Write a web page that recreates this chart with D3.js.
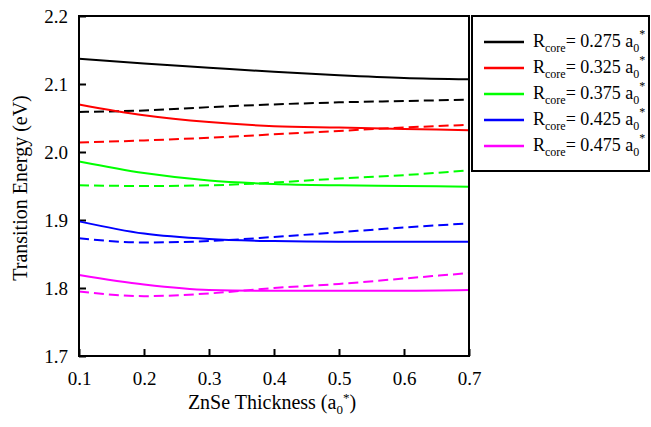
<!DOCTYPE html>
<html>
<head>
<meta charset="utf-8">
<script src="https://cdn.jsdelivr.net/npm/d3@7"></script>
<style>
  body { margin: 0; background: #fff; }
  text { font-family: "Liberation Serif", "Times New Roman", serif; }
</style>
</head>
<body>
<div id="canvas"></div>
<script>
// thickness values (a0*)
let thickness = [0.1, 0.2, 0.3, 0.4, 0.5, 0.6, 0.7]

let coreRadii = ["0.275", "0.325", "0.375", "0.425", "0.475"]
let colours = ["#000000", "#ff0000", "#00ff00", "#0000ff", "#ff00ff"]

// solid curves
let solid0275 = [2.137, 2.130, 2.124, 2.118, 2.113, 2.109, 2.107]
let solid0325 = [2.070, 2.054, 2.044, 2.038, 2.036, 2.034, 2.032]
let solid0375 = [1.986, 1.969, 1.958, 1.953, 1.951, 1.950, 1.949]
let solid0425 = [1.898, 1.880, 1.872, 1.869, 1.868, 1.868, 1.868]
let solid0475 = [1.819, 1.805, 1.797, 1.796, 1.796, 1.796, 1.797]

// dashed curves
let dashed0275 = [2.059, 2.061, 2.066, 2.070, 2.073, 2.075, 2.077]
let dashed0325 = [2.014, 2.017, 2.021, 2.026, 2.031, 2.036, 2.040]
let dashed0375 = [1.951, 1.950, 1.951, 1.955, 1.961, 1.966, 1.973]
let dashed0425 = [1.873, 1.867, 1.869, 1.875, 1.882, 1.889, 1.895]
let dashed0475 = [1.795, 1.788, 1.792, 1.800, 1.806, 1.814, 1.822]

let xTicks = [0.1, 0.2, 0.3, 0.4, 0.5, 0.6, 0.7]
let yTicks = [1.7, 1.8, 1.9, 2.0, 2.1, 2.2]

window.onload = function (){ setup() }

function setup(){

  let solids = [solid0275, solid0325, solid0375, solid0425, solid0475]
  let dashes = [dashed0275, dashed0325, dashed0375, dashed0425, dashed0475]

  let svg = d3.select("#canvas")
    .append("svg")
    .attr("width", 651)
    .attr("height", 427)

  let left = 79, right = 469, top = 16, bottom = 356

  let x = d3.scaleLinear().domain([0.1, 0.7]).range([left, right])
  let y = d3.scaleLinear().domain([1.7, 2.2]).range([bottom, top])

  // axes, ticks pointing inward
  let xAxis = svg.append("g")
    .attr("transform", `translate(0,${bottom})`)
    .call(d3.axisBottom(x).tickValues(xTicks).tickFormat(d3.format(".1f"))
      .tickSizeInner(-7).tickSizeOuter(0).tickPadding(16))
  let yAxis = svg.append("g")
    .attr("transform", `translate(${left},0)`)
    .call(d3.axisLeft(y).tickValues(yTicks).tickFormat(d3.format(".1f"))
      .tickSizeInner(-7).tickSizeOuter(0).tickPadding(11))

  ;[xAxis, yAxis].forEach(g => {
    g.select(".domain").remove()
    g.selectAll("line").attr("stroke", "#000").attr("stroke-width", 2)
    g.selectAll("text")
      .attr("fill", "#000")
      .style("font-family", "'Liberation Serif', serif")
      .style("font-size", "19px")
  })

  let line = d3.line()
    .x((d, i) => x(thickness[i]))
    .y(d => y(d))
    .curve(d3.curveMonotoneX)

  svg.selectAll("path.dashed")
    .data(dashes)
    .join("path")
    .attr("class", "dashed")
    .attr("d", d => line(d))
    .attr("fill", "none")
    .attr("stroke", (d, i) => colours[i])
    .attr("stroke-width", 2)
    .attr("stroke-dasharray", "10,5")

  svg.selectAll("path.solid")
    .data(solids)
    .join("path")
    .attr("class", "solid")
    .attr("d", d => line(d))
    .attr("fill", "none")
    .attr("stroke", (d, i) => colours[i])
    .attr("stroke-width", 2)

  // frame
  svg.append("rect")
    .attr("x", left).attr("y", top)
    .attr("width", right - left).attr("height", bottom - top)
    .attr("fill", "none").attr("stroke", "#000").attr("stroke-width", 2)

  // axis titles
  let xTitle = svg.append("text")
    .attr("x", 272).attr("y", 409)
    .attr("text-anchor", "middle")
    .style("font-size", "20px")
  xTitle.append("tspan").text("ZnSe Thickness (a")
  xTitle.append("tspan").text("0").style("font-size", "13px").attr("dy", 5)
  xTitle.append("tspan").text("*").style("font-size", "13px").attr("dy", -12)
  xTitle.append("tspan").text(")").style("font-size", "20px").attr("dy", 7)

  svg.append("text")
    .attr("transform", "translate(27,188) rotate(-90)")
    .attr("text-anchor", "middle")
    .style("font-size", "20px")
    .text("Transition Energy (eV)")

  // legend
  svg.append("rect")
    .attr("x", 472).attr("y", 16)
    .attr("width", 177).attr("height", 155)
    .attr("fill", "#fff").attr("stroke", "#000").attr("stroke-width", 2)

  let rows = svg.selectAll("g.legend")
    .data(coreRadii)
    .join("g")
    .attr("class", "legend")
    .attr("transform", (d, i) => `translate(0,${42 + i * 26})`)

  rows.append("line")
    .attr("x1", 484).attr("x2", 524)
    .attr("y1", 0).attr("y2", 0)
    .attr("stroke", (d, i) => colours[i])
    .attr("stroke-width", 2.5)

  let label = rows.append("text")
    .attr("x", 533).attr("y", 5)
    .style("font-size", "18px")
  label.append("tspan").text("R")
  label.append("tspan").text("core").style("font-size", "12px").attr("dy", 5)
  label.append("tspan").text(d => "= " + d + " a").style("font-size", "18px").attr("dy", -5)
  label.append("tspan").text("0").style("font-size", "12px").attr("dy", 5)
  label.append("tspan").text("*").style("font-size", "12px").attr("dy", -14)
}
</script>
</body>
</html>
